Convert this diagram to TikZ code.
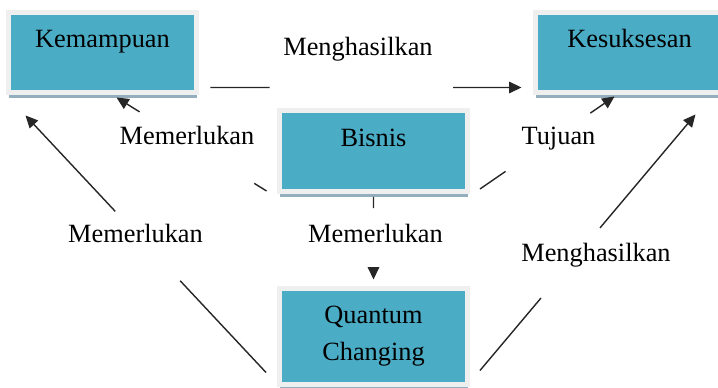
\documentclass[tikz,border=0pt]{standalone}
\usepackage{fontspec}
\setmainfont{Liberation Serif}
\usetikzlibrary{calc, arrows.meta, shadows}

\definecolor{tosca}{HTML}{4BACC6}
\definecolor{bingkai}{HTML}{EFEFEF}
\definecolor{bayang}{HTML}{93AFBD}

\tikzset{
  kotak/.style={draw=bingkai, line width=0.1cm, fill=tosca, minimum width=3.78cm,
    inner sep=0pt, align=center, font=\fontsize{15}{21}\selectfont,
    drop shadow={shadow xshift=0.01cm, shadow yshift=-0.11cm, fill=bayang, opacity=1}},
  satubaris/.style={text height=0.72cm, text depth=0.9cm},
  teks/.style={anchor=base, inner sep=0pt, font=\fontsize{15}{18}\selectfont},
  panah/.style={-{Triangle[length=7pt,width=6.5pt]}, line width=0.8pt, draw=black!85}
}

\begin{document}
\begin{tikzpicture}[x=0.02cm, y=-0.02cm]
      \useasboundingbox (0,0) rectangle (718,388);
      % boxes
      \node[kotak, satubaris] (kem) at (102.5,52.5) {Kemampuan};
      \node[kotak, satubaris] (kes) at (629.5,52.5) {Kesuksesan};
      \node[kotak, satubaris] (bis) at (373.5,151) {Bisnis};
      \node[kotak, minimum height=1.94cm] (qc) at (373.5,336.5) {Quantum\\Changing};
      % line ends
      \coordinate (kem-r) at ([shift={(11,-8)}]kem.south east);
      \coordinate (kes-l) at ([shift={(-11,-8)}]kes.south west);
      \coordinate (bis-bl) at ([shift={(-10,-3)}]bis.south west);
      \coordinate (kem-b) at ([shift={(14,2)}]kem.south);
      \coordinate (qc-l) at ([shift={(-10.5,-15)}]qc.south west);
      \coordinate (kem-bl) at ([shift={(20,20)}]kem.south west);
      \coordinate (bis-b) at ([shift={(0,3)}]bis.south);
      \coordinate (qc-t) at ([shift={(0,-6)}]qc.north);
      \coordinate (bis-br) at ([shift={(9.5,-5)}]bis.south east);
      \coordinate (kes-b) at ([shift={(-15,1)}]kes.south);
      \coordinate (qc-r) at ([shift={(9.5,-17)}]qc.south east);
      \coordinate (kes-br) at ([shift={(-31,19)}]kes.south east);
      % lines, broken where the labels stand
      \draw[panah] (kem-r) -- ($(kem-r)!.19!(kes-l)$) ($(kem-r)!.78!(kes-l)$) -- (kes-l);
      \draw[panah] (bis-bl) -- ($(bis-bl)!.082!(kem-b)$) ($(bis-bl)!.846!(kem-b)$) -- (kem-b);
      \draw[panah] (qc-l) -- ($(qc-l)!.357!(kem-bl)$) ($(qc-l)!.627!(kem-bl)$) -- (kem-bl);
      \draw[panah] (bis-b) -- ($(bis-b)!.135!(qc-t)$) ($(bis-b)!.86!(qc-t)$) -- (qc-t);
      \draw[panah] (bis-br) -- ($(bis-br)!.19!(kes-b)$) ($(bis-br)!.82!(kes-b)$) -- (kes-b);
      \draw[panah] (qc-r) -- ($(qc-r)!.283!(kes-br)$) ($(qc-r)!.557!(kes-br)$) -- (kes-br);
      % labels
      \node[teks] (l-hasil1) at (358,56) {Menghasilkan};
      \node[teks] (l-perlu1) at (187,145) {Memerlukan};
      \node[teks] (l-tujuan) at (558.5,145) {Tujuan};
      \node[teks] (l-perlu2) at (135.5,243) {Memerlukan};
      \node[teks] (l-perlu3) at (375.5,243) {Memerlukan};
      \node[teks] (l-hasil2) at (596,262) {Menghasilkan};
    \end{tikzpicture}
\end{document}
